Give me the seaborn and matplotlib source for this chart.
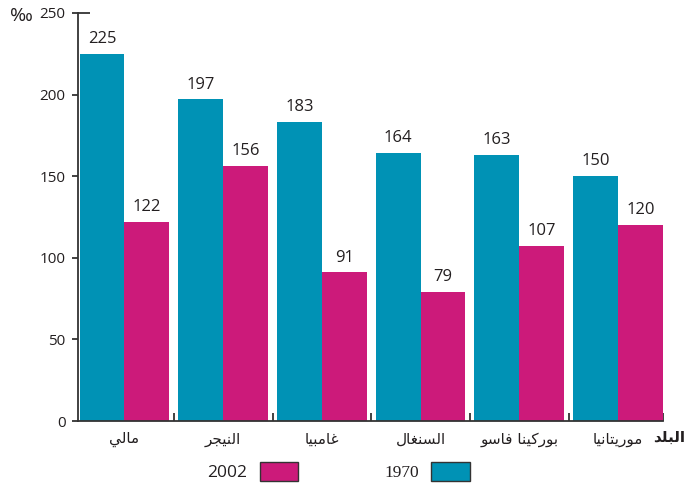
import matplotlib
matplotlib.use("Agg")
import matplotlib.pyplot as plt
from matplotlib.patches import Patch
import seaborn as sns
import pandas as pd

# Under-five mortality (per mille), 1970 vs 2002
countries = ["مالي", "النيجر", "غامبيا", "السنغال", "بوركينا فاسو", "موريتانيا"]
years = ["1970", "2002"]
values_1970 = [225, 197, 183, 164, 163, 150]
values_2002 = [122, 156, 91, 79, 107, 120]
y_ticks = [0, 50, 100, 150, 200, 250]
axis_label = "البلد"
unit_label = "‰"

TEAL = "#0092B5"
MAGENTA = "#CC1A7A"
INK = "#231F20"

# Contextual forms: (isolated, final, initial, medial); two-form letters join on the right only
FORMS = {
    "ا": (0xFE8D, 0xFE8E), "ب": (0xFE8F, 0xFE90, 0xFE91, 0xFE92),
    "ت": (0xFE95, 0xFE96, 0xFE97, 0xFE98), "ج": (0xFE9D, 0xFE9E, 0xFE9F, 0xFEA0),
    "د": (0xFEA9, 0xFEAA), "ر": (0xFEAD, 0xFEAE),
    "س": (0xFEB1, 0xFEB2, 0xFEB3, 0xFEB4), "غ": (0xFECD, 0xFECE, 0xFECF, 0xFED0),
    "ف": (0xFED1, 0xFED2, 0xFED3, 0xFED4), "ك": (0xFED9, 0xFEDA, 0xFEDB, 0xFEDC),
    "ل": (0xFEDD, 0xFEDE, 0xFEDF, 0xFEE0), "م": (0xFEE1, 0xFEE2, 0xFEE3, 0xFEE4),
    "ن": (0xFEE5, 0xFEE6, 0xFEE7, 0xFEE8), "و": (0xFEED, 0xFEEE),
    "ي": (0xFEF1, 0xFEF2, 0xFEF3, 0xFEF4),
}


def shape_arabic(text):
    """Join letters into their contextual forms and lay them out right-to-left."""
    out = []
    for i, c in enumerate(text):
        forms = FORMS.get(c)
        if forms is None:
            out.append(c)
            continue
        prev = text[i - 1] if i > 0 else None
        nxt = text[i + 1] if i + 1 < len(text) else None
        join_prev = prev in FORMS and len(FORMS[prev]) == 4
        join_next = len(forms) == 4 and nxt in FORMS
        if join_prev and join_next:
            code = forms[3]
        elif join_prev:
            code = forms[1]
        elif join_next:
            code = forms[2]
        else:
            code = forms[0]
        out.append(chr(code))
    return "".join(reversed(out))


sns.set_style("white")
plt.rcParams["font.family"] = ["Open Sans", "DejaVu Sans"]
plt.rcParams["text.color"] = INK
plt.rcParams["axes.labelcolor"] = INK
plt.rcParams["xtick.color"] = INK
plt.rcParams["ytick.color"] = INK

df = pd.DataFrame({
    "country": countries * 2,
    "year": [years[0]] * len(countries) + [years[1]] * len(countries),
    "rate": values_1970 + values_2002,
})

fig = plt.figure(figsize=(6.86, 4.86), dpi=100)
ax = fig.add_axes([78 / 686, 65 / 486, 585 / 686, 408 / 486])

sns.barplot(data=df, x="country", y="rate", hue="year", order=countries,
            hue_order=years, palette=[TEAL, MAGENTA], width=0.909,
            saturation=1, linewidth=0, legend=False, ax=ax)

for cont in ax.containers:
    ax.bar_label(cont, fmt="{:.0f}", padding=5, fontsize=12, color=INK)

ax.set_xlim(-0.47, 5.455)
ax.set_ylim(0, 250)
ax.set_xlabel("")
ax.set_ylabel("")

# spines
for side in ("top", "right"):
    ax.spines[side].set_visible(False)
for side in ("left", "bottom"):
    ax.spines[side].set_color("#333333")
    ax.spines[side].set_linewidth(1.3)

# y axis
ax.set_yticks(y_ticks)
ax.set_yticklabels([str(v) for v in y_ticks])
ax.tick_params(axis="y", direction="out", length=4, width=1.3, color="#333333",
               labelsize=11, pad=5, left=True)
ax.plot([0, 0.021], [250, 250], transform=ax.get_yaxis_transform(),
        color="#333333", lw=1.3, clip_on=False, solid_capstyle="butt")

# x axis: country names at group centres, small separators between groups
ax.set_xticks(range(len(countries)))
ax.set_xticklabels([shape_arabic(c) for c in countries], family=["DejaVu Sans"])
ax.tick_params(axis="x", which="major", length=0, labelsize=11, pad=8)
ax.set_xticks([i + 0.5 for i in range(len(countries) - 1)] + [5.455], minor=True)
ax.tick_params(axis="x", which="minor", direction="in", length=6, width=1.3,
               color="#333333", bottom=True)

fig.text(0.999, 1 - 437 / 486, shape_arabic(axis_label), ha="right", va="center",
         fontsize=11, fontweight="bold", family=["DejaVu Sans"])
fig.text(21 / 686, 1 - 16 / 486, unit_label, ha="center", va="center", fontsize=14)

# legend
handles = [Patch(facecolor=MAGENTA, edgecolor="#333333", linewidth=1),
           Patch(facecolor=TEAL, edgecolor="#333333", linewidth=1)]
leg = fig.legend(handles, [years[1], years[0]], loc="center",
                 bbox_to_anchor=(338.5 / 686, 1 - 471.5 / 486), ncol=2,
                 markerfirst=False, frameon=False, fontsize=12.5,
                 handlelength=2.2, handleheight=1.35, handletextpad=0.7,
                 columnspacing=5.0, borderpad=0, borderaxespad=0)
leg.get_texts()[1].set_family(["Liberation Serif"])

fig.savefig("out.png", dpi=100)
